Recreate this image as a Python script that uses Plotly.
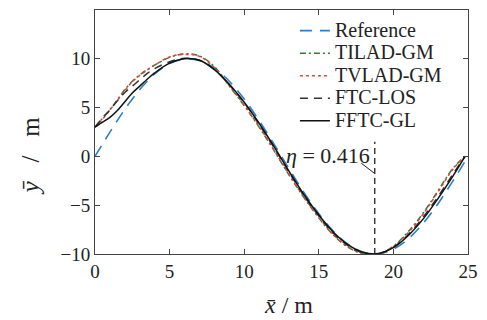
import plotly.graph_objects as go

# Reference path
ref_x = [0, 0.5, 1, 1.5, 2, 2.5, 3, 3.5, 4, 5, 6, 7, 8, 9, 10, 11, 12, 13, 14, 15, 16, 17, 18, 19, 20, 21, 22, 23, 24, 25]
ref_y = [0, 1.253, 2.487, 3.681, 4.818, 5.878, 6.845, 7.705, 8.443, 9.511, 9.980, 9.823, 9.048, 7.705, 5.878, 3.681,
         1.253, -1.253, -3.681, -5.878, -7.705, -9.048, -9.823, -9.980, -9.511, -8.443, -6.845, -4.818, -2.487, 0]

trk_x = [0, 0.5, 1, 1.5, 2, 2.5, 3, 3.5, 4, 5, 6, 7, 8, 9, 10, 11, 12, 13, 14, 15, 16, 17, 18, 19, 20, 21, 22, 23, 24, 24.8]

tilad_y = [3.0, 3.9, 4.8, 5.8, 6.85, 7.7, 8.35, 8.9, 9.35, 10.15, 10.5, 10.3, 9.2, 7.2, 5.2, 3.0, 0.6, -1.9, -4.2,
           -6.3, -8.1, -9.35, -10.0, -10.0, -9.2, -7.7, -5.8, -3.5, -1.2, 0]
tvlad_y = [3.0, 3.8, 4.75, 5.75, 6.75, 7.65, 8.3, 8.85, 9.35, 10.2, 10.45, 10.25, 9.1, 7.25, 5.25, 3.05, 0.65, -1.85,
           -4.15, -6.25, -8.05, -9.3, -9.95, -10.05, -9.25, -7.8, -5.9, -3.6, -1.3, 0]
ftclos_y = [3.0, 3.95, 4.75, 5.7, 6.55, 7.2, 7.85, 8.5, 9.0, 9.7, 10.05, 9.85, 8.9, 7.35, 5.5, 3.3, 0.9, -1.6, -4.0,
            -6.1, -7.9, -9.2, -9.9, -9.95, -9.3, -8.0, -6.2, -4.1, -1.8, 0]
fftcgl_y = [3.0, 3.5, 4.0, 4.7, 5.6, 6.5, 7.2, 7.9, 8.55, 9.55, 10.0, 9.85, 8.9, 7.4, 5.55, 3.4, 1.0, -1.5, -3.9,
            -6.0, -7.8, -9.1, -9.85, -9.95, -9.35, -8.1, -6.4, -4.3, -2.0, 0]

names = ["Reference", "TILAD-GM", "TVLAD-GM", "FTC-LOS", "FFTC-GL"]
eta_x = 18.75
eta_top = 1.5
eta_label = "<i>η</i> = 0.416"
x_title = "<i>x̄</i> / m"
y_title = "<i>ȳ</i>   /   m"

FONT = "Liberation Serif, Times New Roman, Times, serif"
TXT = "#222222"
fig = go.Figure()
series = [
    (ref_x, ref_y, names[0], "#2a7fc9", "12px,8px", 1.6),
    (trk_x, tilad_y, names[1], "#2e7d3a", "6px,3px,2px,3px", 1.5),
    (trk_x, tvlad_y, names[2], "#e8413c", "dot", 1.5),
    (trk_x, ftclos_y, names[3], "#333333", "8px,6px", 1.5),
    (trk_x, fftcgl_y, names[4], "#111111", "solid", 1.5),
]
for xs, ys, nm, col, dash, w in series:
    fig.add_trace(go.Scatter(x=xs, y=ys, name=f"<span style='font-size:20px'>{nm}</span>", mode="lines",
                             line=dict(color=col, dash=dash, width=w, shape="spline", smoothing=1.0)))

fig.add_shape(type="line", x0=eta_x, x1=eta_x, y0=-10, y1=eta_top, xref="x", yref="y",
              line=dict(color=TXT, width=1.3, dash="6px,4px"))
fig.add_shape(type="line", x0=17.85, x1=18.7, y0=-0.7, y1=-1.7, xref="x", yref="y",
              line=dict(color=TXT, width=1))
fig.add_annotation(x=15.6, y=0.1, xref="x", yref="y", text=eta_label, showarrow=False,
                   font=dict(family=FONT, size=22, color=TXT))

# axis titles as annotations (paper coords, offset from plot area)
fig.add_annotation(x=0.518, y=0, xref="paper", yref="paper", yanchor="middle", yshift=-51,
                   text=x_title, showarrow=False, font=dict(family=FONT, size=24, color=TXT))
fig.add_annotation(x=0, y=0.40, xref="paper", yref="paper", xanchor="center", xshift=-65,
                   text=y_title, textangle=-90, showarrow=False, font=dict(family=FONT, size=25, color=TXT))

axis_common = dict(showline=True, linecolor="#444444", linewidth=1, mirror="ticks", ticks="inside",
                   ticklen=5, tickcolor="#444444", showgrid=False, zeroline=False,
                   tickfont=dict(family=FONT, size=19, color=TXT), dtick=5)
fig.update_xaxes(range=[0, 25], **axis_common)
fig.update_yaxes(range=[-10, 15], **axis_common)

fig.update_layout(
    width=487, height=320,
    margin=dict(l=95, r=14, t=9, b=66),
    plot_bgcolor="white", paper_bgcolor="white",
    legend=dict(x=0.536, y=0.982, xanchor="left", yanchor="top", bgcolor="rgba(0,0,0,0)",
                font=dict(family=FONT, size=15, color=TXT), tracegroupgap=0),
    showlegend=True,
)
fig.write_html("out.html", post_script="document.body.style.margin='0';",
               config={"displayModeBar": False})
